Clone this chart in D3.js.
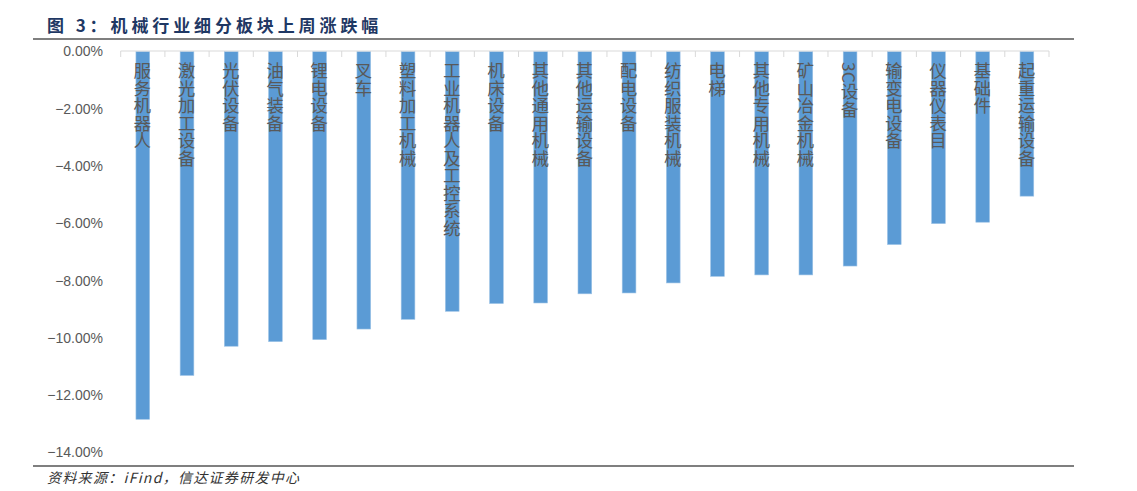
<!DOCTYPE html>
<html>
<head>
<meta charset="utf-8">
<script src="https://cdn.jsdelivr.net/npm/d3@7"></script>
<style>
  html, body { margin: 0; padding: 0; background: #fff; }
  svg { display: block; }
</style>
</head>
<body>
<svg id="chart" width="1137" height="491"></svg>
<script>
const categories = ["服务机器人","激光加工设备","光伏设备","油气装备","锂电设备","叉车","塑料加工机械","工业机器人及工控系统","机床设备","其他通用机械","其他运输设备","配电设备","纺织服装机械","电梯","其他专用机械","矿山冶金机械","3C设备","输变电设备","仪器仪表目","基础件","起重运输设备"];
const values = [-12.84,-11.31,-10.29,-10.13,-10.06,-9.69,-9.35,-9.07,-8.80,-8.78,-8.46,-8.43,-8.08,-7.85,-7.80,-7.80,-7.49,-6.74,-6.01,-5.96,-5.05];
const yTicks = [0,-2,-4,-6,-8,-10,-12,-14];
const titleText = "图 3：机械行业细分板块上周涨跌幅";
const sourceText = "资料来源：iFind，信达证券研发中心";

const svg = d3.select("#chart");

const x = d3.scaleBand().domain(categories).range([120.7, 1049]).paddingInner(0.69).paddingOuter(0.345);
const y = d3.scaleLinear().domain([-14, 0]).range([452.5, 51.5]);

// Title
svg.append("text").attr("x", 47).attr("y", 32)
  .attr("font-family", "Noto Sans CJK SC").attr("font-weight", "bold")
  .attr("font-size", 17).attr("letter-spacing", 3.9).attr("fill", "#1F3864")
  .text(titleText);

// frame lines
svg.append("line").attr("x1", 33).attr("x2", 1074).attr("y1", 39).attr("y2", 39)
  .attr("stroke", "#555").attr("stroke-width", 1.5);
svg.append("line").attr("x1", 33).attr("x2", 1074).attr("y1", 466).attr("y2", 466)
  .attr("stroke", "#555").attr("stroke-width", 1.5);

// Y axis labels
const yAxis = d3.axisLeft(y).tickValues(yTicks).tickSize(0).tickPadding(0)
  .tickFormat(d => d3.format(".2f")(d) + "%");
const gy = svg.append("g").attr("transform", "translate(103,0)").call(yAxis);
gy.select(".domain").remove();
gy.selectAll("text").attr("font-family", "Liberation Sans, Arial, sans-serif")
  .attr("font-size", 14).attr("fill", "#595959");

// Bars
svg.append("g").selectAll("rect").data(categories).join("rect")
  .attr("x", d => x(d))
  .attr("width", x.bandwidth())
  .attr("y", y(0))
  .attr("height", (d, i) => y(values[i]) - y(0))
  .attr("fill", "#5B9BD5")
  .attr("stroke", "#9DC3E6").attr("stroke-width", 0.6);

// Top category axis (line with ticks)
const step = x.step();
const left = 120.7, right = 1049;
svg.append("line").attr("x1", left).attr("x2", right).attr("y1", 51).attr("y2", 51)
  .attr("stroke", "#d9d9d9").attr("stroke-width", 1);
const tickPos = d3.range(categories.length + 1).map(i => left + i * step);
svg.append("g").selectAll("line").data(tickPos).join("line")
  .attr("x1", d => d).attr("x2", d => d).attr("y1", 51).attr("y2", 57)
  .attr("stroke", "#d9d9d9").attr("stroke-width", 1);

// Category labels (vertical)
svg.append("g").selectAll("text").data(categories).join("text")
  .attr("x", d => x(d) + x.bandwidth() / 2 - 0.5)
  .attr("y", 62)
  .style("writing-mode", "vertical-rl")
  .style("text-orientation", "mixed")
  .attr("font-family", "Noto Sans CJK SC")
  .attr("font-size", 17.5)
  .attr("fill", "#595959")
  .text(d => d);

// Source
svg.append("text").attr("x", 47).attr("y", 483)
  .attr("font-family", "Noto Sans CJK SC").attr("font-style", "italic")
  .attr("font-size", 14).attr("fill", "#333").attr("letter-spacing", 1.3)
  .text(sourceText);
</script>
</body>
</html>
